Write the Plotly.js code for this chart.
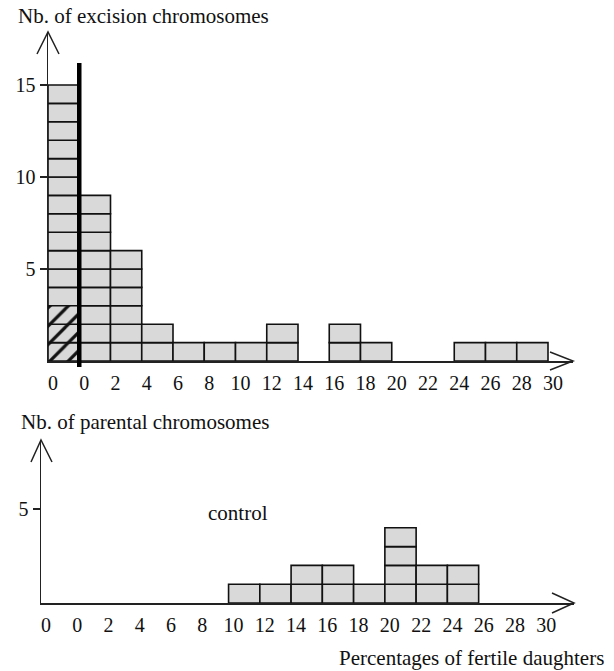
<!DOCTYPE html>
<html>
<head>
<meta charset="utf-8">
<script src="https://cdn.plot.ly/plotly-3.0.1.min.js"></script>
<style>html,body{margin:0;padding:0;background:#fff;} #chart{width:614px;height:671px;}</style>
</head>
<body>
<div id="chart"></div>
<script>
// ---- data ----
// bin start (percentage of fertile daughters); the first bin (-2..0) is the separate "0" column
const binStarts = [-2, 0, 2, 4, 6, 8, 10, 12, 14, 16, 18, 20, 22, 24, 26, 28];
const excisionCounts = [15, 9, 6, 2, 1, 1, 1, 2, 0, 2, 1, 0, 0, 1, 1, 1];
const excisionHatched = [3, 0, 0, 0, 0, 0, 0, 0, 0, 0, 0, 0, 0, 0, 0, 0];
const parentalCounts = [0, 0, 0, 0, 0, 0, 1, 1, 2, 2, 1, 4, 2, 2, 0, 0];
const xTickVals = [-2, 0, 2, 4, 6, 8, 10, 12, 14, 16, 18, 20, 22, 24, 26, 28, 30];
const xTickText = ["0", "0", "2", "4", "6", "8", "10", "12", "14", "16", "18", "20", "22", "24", "26", "28", "30"];
const topYTicks = [5, 10, 15];
const bottomYTicks = [5];
const binWidth = 2;

// ---- helpers ----
const W = 614, H = 671;
const px = x => x / W;
const py = y => 1 - y / H;

function unitBoxes(counts, from, to) {
  const x = [], base = [], y = [];
  counts.forEach((c, i) => {
    const lo = from ? from[i] : 0;
    const hi = to ? to[i] : c;
    for (let k = lo; k < hi; k++) {
      x.push(binStarts[i] + binWidth / 2);
      base.push(k);
      y.push(1);
    }
  });
  return {x, base, y};
}

const fill = '#d9d9d9';
const edge = {color: '#111', width: 1.6};

const topPlain = unitBoxes(excisionCounts, excisionHatched, null);
const topHatch = unitBoxes(excisionCounts, null, excisionHatched);
const botPlain = unitBoxes(parentalCounts, null, null);

const traces = [
  {type: 'bar', x: topPlain.x, y: topPlain.y, base: topPlain.base, width: binWidth,
   xaxis: 'x', yaxis: 'y', marker: {color: fill, line: edge}, hoverinfo: 'skip', showlegend: false},
  {type: 'bar', x: topHatch.x, y: topHatch.y, base: topHatch.base, width: binWidth,
   xaxis: 'x', yaxis: 'y',
   marker: {color: fill, line: edge, pattern: {shape: '/', fgcolor: '#111', bgcolor: fill, size: 13, solidity: 0.25}},
   hoverinfo: 'skip', showlegend: false},
  {type: 'bar', x: botPlain.x, y: botPlain.y, base: botPlain.base, width: binWidth,
   xaxis: 'x2', yaxis: 'y2', marker: {color: fill, line: edge}, hoverinfo: 'skip', showlegend: false}
];

const FAM = 'Liberation Serif';
const font = {family: FAM, color: '#111', size: 20};
const tickFont = {family: FAM, color: '#111', size: 20};
const textFont = {family: FAM, color: '#111', size: 21};

const xCommon = {
  showgrid: false, zeroline: false, showline: true, linecolor: '#222', linewidth: 1.5,
  ticks: '', tickmode: 'array', tickvals: xTickVals, ticktext: xTickText,
  tickfont: tickFont, ticklabelshift: 5, ticklabelstandoff: 3, fixedrange: true
};
const yCommon = {
  showgrid: false, zeroline: false, showline: true, linecolor: '#222', linewidth: 1.5,
  ticks: 'outside', ticklen: 7, tickwidth: 1.3, tickcolor: '#222',
  tickmode: 'array', tickfont: tickFont, fixedrange: true
};

const layout = {
  width: W, height: H, autosize: false,
  margin: {l: 0, r: 0, t: 0, b: 0, pad: 0},
  paper_bgcolor: '#fff', plot_bgcolor: 'rgba(0,0,0,0)',
  font: font, barmode: 'overlay', showlegend: false,
  xaxis: Object.assign({}, xCommon, {domain: [px(48), px(573)], range: [-2, 31.6], anchor: 'y'}),
  yaxis: Object.assign({}, yCommon, {domain: [py(361), py(32)], range: [0, (361 - 32) / 18.4], tickvals: topYTicks, anchor: 'x'}),
  xaxis2: Object.assign({}, xCommon, {domain: [px(41), px(574)], range: [-2, 32.1], anchor: 'y2'}),
  yaxis2: Object.assign({}, yCommon, {domain: [py(603), py(440)], range: [0, (603 - 440) / 18.8], tickvals: bottomYTicks, anchor: 'x2'}),
  shapes: [
    // thick separator at 0 in the top panel
    {type: 'line', xref: 'x', yref: 'paper', x0: 0, x1: 0, y0: py(367), y1: py(63),
     line: {color: '#000', width: 4.5}, layer: 'above'},
    // arrowheads (open V)
    {type: 'path', xref: 'paper', yref: 'paper',
     path: `M ${px(37)} ${py(54)} L ${px(48)} ${py(32)} L ${px(59)} ${py(54)}`, line: {color: '#222', width: 1.5}},
    {type: 'path', xref: 'paper', yref: 'paper',
     path: `M ${px(550)} ${py(352)} L ${px(573)} ${py(361)} L ${px(550)} ${py(370)}`, line: {color: '#222', width: 1.5}},
    {type: 'path', xref: 'paper', yref: 'paper',
     path: `M ${px(31)} ${py(462)} L ${px(41)} ${py(440)} L ${px(52)} ${py(462)}`, line: {color: '#222', width: 1.5}},
    {type: 'path', xref: 'paper', yref: 'paper',
     path: `M ${px(552)} ${py(593)} L ${px(574)} ${py(603)} L ${px(552)} ${py(613)}`, line: {color: '#222', width: 1.5}}
  ],
  annotations: [
    {text: 'Nb. of excision chromosomes', xref: 'paper', yref: 'paper', x: px(16), y: py(16),
     xanchor: 'left', yanchor: 'middle', showarrow: false, font: textFont},
    {text: 'Nb. of parental chromosomes', xref: 'paper', yref: 'paper', x: px(19), y: py(422),
     xanchor: 'left', yanchor: 'middle', showarrow: false, font: textFont},
    {text: 'control', xref: 'paper', yref: 'paper', x: px(238), y: py(513),
     xanchor: 'center', yanchor: 'middle', showarrow: false, font: textFont},
    {text: 'Percentages of fertile daughters', xref: 'paper', yref: 'paper', x: px(606), y: py(658),
     xanchor: 'right', yanchor: 'middle', showarrow: false, font: textFont}
  ]
};

Plotly.newPlot('chart', traces, layout, {staticPlot: true, displayModeBar: false});
</script>
</body>
</html>
